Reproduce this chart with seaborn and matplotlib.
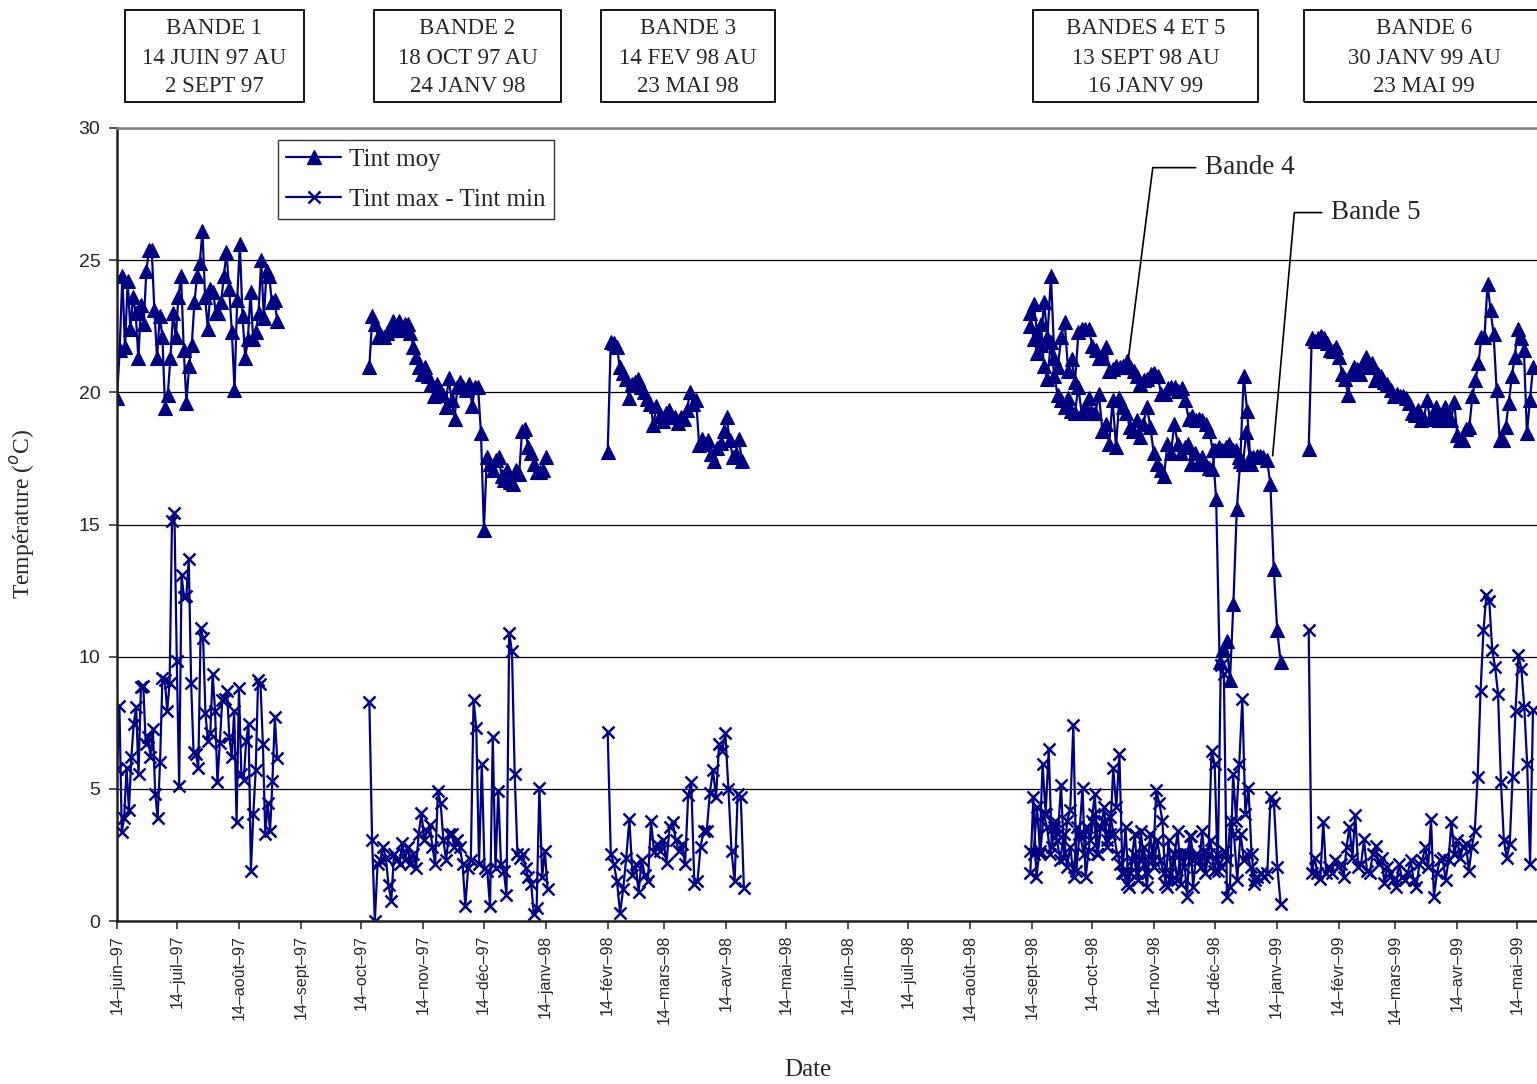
import numpy as np
import pandas as pd
import matplotlib.pyplot as plt
import matplotlib.dates as mdates
from matplotlib.lines import Line2D
from matplotlib.patches import Rectangle
from matplotlib.ticker import FuncFormatter
import seaborn as sns

sns.set_style("white")
plt.rcParams['font.family'] = ['Liberation Sans', 'DejaVu Sans']
SERIF = ['Liberation Serif', 'DejaVu Serif']
NAVY = '#000080'

# French month abbreviations for the date ticks
mois = ['janv', 'févr', 'mars', 'avr', 'mai', 'juin',
        'juil', 'août', 'sept', 'oct', 'nov', 'déc']

# ---- data: first / last day of each series and the daily readings ----
bandes = ['B1', 'B2', 'B3', 'B4', 'B5', 'B6']

moy_debut = ['1997-06-14', '1997-10-18', '1998-02-14', '1998-09-13', '1998-09-13', '1999-01-30']
moy_fin = ['1997-09-02', '1998-01-14', '1998-04-22', '1999-01-01', '1999-01-16', '1999-05-22']
ecart_debut = ['1997-06-14', '1997-10-18', '1998-02-14', '1998-09-13', '1998-09-13', '1999-01-30']
ecart_fin = ['1997-09-02', '1998-01-15', '1998-04-23', '1999-01-03', '1999-01-16', '1999-05-22']

# Tint moy
moy_b1 = [19.8, 21.6, 24.4, 21.7, 24.2, 22.4, 23.6, 23.0, 21.3, 23.3,
          22.6, 24.6, 25.4, 25.4, 23.1, 21.3, 22.9, 22.1, 19.4, 19.9,
          21.3, 23.0, 22.1, 23.6, 24.4, 21.6, 19.6, 21.0, 21.8, 23.4,
          24.4, 24.9, 26.1, 23.6, 22.4, 23.9, 23.8, 23.0, 23.0, 23.4,
          24.4, 25.3, 23.9, 22.3, 20.1, 23.5, 25.6, 22.9, 21.3, 22.0,
          23.8, 22.0, 22.3, 23.0, 25.0, 22.8, 24.6, 24.4, 23.4, 23.5, 22.7]
moy_b2 = [20.97, 22.9, 22.6, 22.1, 22.15, 22.1, 22.25, 22.35, 22.7, 22.35,
          22.7, 22.35, 22.6, 22.6, 22.25, 21.7, 21.35, 20.97, 20.7, 20.97,
          20.6, 20.3, 19.85, 20.3, 20.1, 19.9, 19.45, 20.55, 19.7, 19.0,
          20.2, 20.4, 20.2, 20.1, 20.3, 19.5, 20.2, 20.2, 18.45, 14.8,
          17.55, 17.3, 17.05, 17.45, 17.55, 16.85, 16.7, 17.05, 16.6, 16.55,
          17.05, 16.9, 18.55, 18.6, 17.95, 17.7, 17.3, 17.0, 17.0, 17.05, 17.55]
moy_b3 = [17.75, 21.9, 21.85, 21.7, 20.95, 20.75, 20.5, 19.8, 20.3, 20.4,
          20.5, 20.2, 20.0, 19.75, 19.55, 18.75, 19.5, 19.1, 18.9, 19.2,
          19.35, 19.05, 19.05, 18.85, 19.05, 19.0, 19.35, 20.0, 19.55, 19.7,
          18.0, 18.25, 18.05, 18.2, 17.65, 17.4, 17.9, 18.1, 18.55, 19.05,
          18.2, 17.55, 17.65, 18.25, 17.4]
moy_b4 = [22.5, 23.35, 22.2, 21.8, 23.4, 22.1, 24.4, 21.3, 20.95, 22.1,
          22.65, 20.8, 21.25, 20.4, 22.3, 22.4, 22.4, 22.4, 21.75, 21.6,
          21.3, 21.3, 21.7, 20.8, 20.9, 21.0, 20.95, 21.0, 21.2, 20.95,
          20.8, 20.6, 20.3, 20.45, 20.5, 20.7, 20.75, 20.6, 19.95, 19.95,
          20.15, 20.2, 20.2, 20.05, 20.15, 19.7, 19.0, 19.1, 18.95, 19.0,
          18.95, 18.8, 18.55, 17.8, 15.95, 9.8, 10.3, 10.6, 9.1, 12.0,
          15.6, 17.4, 20.6, 19.3, 17.3]
moy_b5 = [23.0, 22.0, 21.5, 22.6, 21.0, 20.5, 21.9, 20.6, 19.9, 19.7,
          19.45, 19.8, 19.3, 19.2, 20.2, 19.2, 19.45, 19.8, 19.2, 19.2,
          19.95, 18.55, 18.8, 18.05, 19.7, 17.95, 19.8, 19.45, 19.2, 18.7,
          18.55, 18.95, 18.3, 18.8, 19.45, 18.7, 17.7, 17.3, 17.05, 16.85,
          18.05, 17.7, 18.8, 18.05, 17.7, 17.95, 18.05, 17.3, 17.7, 17.3,
          17.55, 17.3, 17.15, 17.1, 17.8, 17.95, 17.8, 17.95, 18.05, 17.8,
          17.8, 17.55, 17.3, 18.5, 17.55, 17.55, 17.6, 17.6, 17.55, 17.45,
          16.55, 13.3, 11.0, 9.8]
moy_b6 = [17.85, 22.05, 21.95, 22.05, 22.15, 22.05, 21.85, 21.6, 21.55, 21.7,
          21.35, 20.7, 20.5, 19.9, 20.7, 20.95, 20.9, 20.7, 21.1, 21.35,
          20.95, 21.1, 20.45, 20.7, 20.6, 20.4, 20.3, 20.1, 19.85, 19.95,
          19.85, 19.85, 19.8, 19.6, 19.2, 19.15, 19.35, 18.95, 19.0, 19.7,
          19.0, 19.1, 19.45, 18.95, 19.1, 19.45, 19.1, 18.95, 19.65, 18.4,
          18.2, 18.2, 18.6, 18.7, 19.85, 20.45, 21.1, 22.1, 22.1, 24.1,
          23.1, 22.2, 20.1, 18.2, 18.2, 18.7, 19.6, 20.6, 21.35, 22.4,
          22.05, 21.6, 18.45, 19.7, 20.95]

# Tint max - Tint min
ecart_b1 = [5.75, 8.15, 3.35, 3.9, 5.8, 4.2, 6.2, 7.45, 8.1, 5.55,
            8.85, 8.9, 6.7, 6.95, 6.2, 7.25, 4.8, 3.9, 6.0, 9.2,
            9.1, 7.95, 9.0, 15.15, 15.45, 9.85, 5.1, 13.1, 12.25, 12.3,
            13.7, 9.0, 6.4, 6.3, 5.8, 11.1, 10.7, 7.85, 6.8, 7.1,
            9.35, 7.95, 5.25, 6.75, 8.35, 8.4, 8.7, 6.95, 6.2, 7.95,
            3.75, 8.8, 5.55, 5.35, 6.8, 7.45, 1.9, 4.05, 5.7, 9.1,
            8.95, 6.7, 3.3, 4.45, 3.4, 5.3, 7.7, 6.15]
ecart_b2 = [8.3, 3.05, 0.0, 2.15, 2.3, 2.8, 2.4, 1.35, 0.75, 2.55,
            2.3, 2.15, 2.95, 2.3, 2.8, 2.15, 2.55, 2.0, 3.3, 4.1,
            3.05, 3.4, 3.65, 2.8, 2.15, 4.9, 4.45, 3.05, 2.3, 3.3,
            3.3, 2.8, 3.05, 2.8, 2.15, 0.55, 2.0, 2.3, 8.35, 7.3,
            2.15, 5.95, 2.0, 1.9, 0.55, 6.95, 2.0, 4.9, 2.15, 1.9,
            1.0, 10.9, 10.2, 5.55, 2.55, 2.4, 2.55, 2.0, 1.65, 1.4,
            0.25, 0.5, 5.05, 1.65, 2.65, 1.2]
ecart_b3 = [7.15, 2.55, 2.15, 1.5, 0.3, 1.2, 2.4, 3.85, 1.75, 2.15,
            1.1, 2.3, 1.75, 1.5, 3.8, 2.6, 2.9, 2.65, 3.05, 2.2,
            3.55, 3.75, 3.05, 2.65, 2.9, 2.15, 4.75, 5.25, 1.4, 1.5,
            2.8, 3.4, 3.4, 4.85, 5.7, 4.7, 6.7, 6.45, 7.1, 5.0,
            2.65, 1.5, 4.8, 4.7, 1.25]
ecart_b4 = [1.8, 4.7, 1.65, 2.65, 5.95, 4.05, 6.5, 2.8, 3.8, 3.3,
            5.15, 2.4, 3.8, 4.2, 7.4, 1.9, 3.3, 5.05, 1.65, 2.65,
            3.8, 4.8, 2.55, 3.55, 4.3, 3.05, 3.3, 5.8, 4.3, 6.3,
            1.8, 3.55, 1.3, 2.3, 3.3, 1.55, 3.4, 2.15, 1.3, 3.3,
            2.3, 4.95, 4.45, 3.8, 1.4, 3.05, 1.55, 2.55, 3.4, 1.4,
            2.55, 0.9, 3.2, 1.3, 2.55, 2.3, 3.4, 1.8, 2.55, 6.45,
            5.95, 1.9, 9.7, 9.35, 0.9, 1.3, 5.55, 3.8, 5.95, 8.4,
            4.05, 5.05, 2.55, 1.55]
ecart_b5 = [2.65, 2.55, 4.3, 2.55, 4.05, 3.55, 2.55, 3.55, 3.05, 2.3,
            3.3, 2.05, 2.8, 1.65, 3.55, 3.2, 2.55, 3.55, 3.05, 4.05,
            2.55, 3.55, 3.8, 2.8, 3.95, 3.3, 2.55, 2.15, 1.8, 1.4,
            1.8, 2.55, 1.8, 2.3, 2.8, 1.8, 2.55, 2.05, 3.05, 2.3,
            1.8, 1.3, 1.8, 2.55, 1.55, 2.55, 2.05, 2.55, 3.2, 2.3,
            2.55, 2.05, 2.65, 2.3, 3.05, 1.9, 2.55, 2.05, 2.65, 2.3,
            3.8, 3.3, 1.55, 3.3, 2.3, 2.55, 2.05, 1.4, 1.65, 1.8,
            1.65, 1.8, 4.7, 4.45, 2.05, 0.65]
ecart_b6 = [11.0, 1.8, 2.4, 1.8, 1.6, 3.75, 1.8, 2.05, 1.8, 2.3,
            2.05, 2.15, 1.65, 2.8, 3.55, 2.4, 4.0, 2.05, 2.15, 3.1,
            1.9, 1.8, 2.55, 2.85, 2.15, 2.4, 1.45, 2.05, 1.8, 1.55,
            1.3, 2.15, 1.65, 1.55, 1.8, 2.3, 1.55, 1.3, 2.15, 2.3,
            2.8, 2.05, 3.85, 0.9, 1.8, 2.3, 2.4, 1.55, 2.3, 3.75,
            2.55, 3.05, 2.4, 2.8, 2.9, 1.9, 2.8, 3.4, 5.45, 8.7,
            11.0, 12.35, 12.1, 10.25, 9.6, 8.6, 5.25, 3.05, 2.4, 2.9,
            5.45, 7.95, 10.05, 9.55, 8.1, 5.95, 2.15, 8.0]

moy_series = [moy_b1, moy_b2, moy_b3, moy_b4, moy_b5, moy_b6]
ecart_series = [ecart_b1, ecart_b2, ecart_b3, ecart_b4, ecart_b5, ecart_b6]

# header boxes
cadres = [['BANDE 1', '14 JUIN 97 AU', '2 SEPT 97'],
          ['BANDE 2', '18 OCT 97 AU', '24 JANV 98'],
          ['BANDE 3', '14 FEV 98 AU', '23 MAI 98'],
          ['BANDES 4 ET 5', '13 SEPT 98 AU', '16 JANV 99'],
          ['BANDE 6', '30 JANV 99 AU', '23 MAI 99']]


def to_long(series, starts, ends):
    frames = []
    for name, vals, d0, d1 in zip(bandes, series, starts, ends):
        frames.append(pd.DataFrame({
            'date': pd.date_range(d0, d1, periods=len(vals)),
            'temp': vals,
            'bande': name}))
    return pd.concat(frames, ignore_index=True)


df_moy = to_long(moy_series, moy_debut, moy_fin)
df_ecart = to_long(ecart_series, ecart_debut, ecart_fin)

W, H = 1537, 1084
fig = plt.figure(figsize=(W / 100, H / 100), dpi=100)
ax = fig.add_axes([117 / W, 1 - 921 / H, 1420 / W, 793 / H])

sns.lineplot(data=df_moy, x='date', y='temp', units='bande', estimator=None,
             sort=False, color=NAVY, lw=1.6, marker='^', markersize=10,
             markeredgecolor=NAVY, markeredgewidth=0.8, legend=False, ax=ax)
sns.lineplot(data=df_ecart, x='date', y='temp', units='bande', estimator=None,
             sort=False, color=NAVY, lw=1.6, marker='x', markersize=9,
             markeredgecolor=NAVY, markeredgewidth=1.8, legend=False, ax=ax)

ax.set_xlim(pd.Timestamp('1997-06-14'), pd.Timestamp('1999-05-24'))
ax.set_ylim(0, 30)
ax.set_yticks(np.arange(0, 31, 5))
ax.yaxis.grid(True, color='black', linewidth=0.9)
ax.set_axisbelow(True)

ax.xaxis.set_major_locator(mdates.MonthLocator(bymonthday=14))
ax.xaxis.set_major_formatter(FuncFormatter(
    lambda v, pos: "14–{}–{:%y}".format(mois[mdates.num2date(v).month - 1],
                                         mdates.num2date(v))))
ax.tick_params(axis='both', direction='out', length=6, width=1.2,
               color='#333333', bottom=True, left=True)
ax.tick_params(axis='y', labelsize=14, pad=6)
ax.tick_params(axis='x', labelsize=11.5, rotation=90, pad=4)

for s in ['left', 'bottom']:
    ax.spines[s].set_color('#222222')
    ax.spines[s].set_linewidth(1.8)
ax.spines['top'].set_color('#808080')
ax.spines['top'].set_linewidth(1.8)
ax.spines['right'].set_visible(False)

ax.set_ylabel('Température ($^{o}$C)', family=SERIF, fontsize=17)
ax.yaxis.set_label_coords(-0.0563, 0.513)
ax.set_xlabel('Date', family=SERIF, fontsize=18)
ax.xaxis.set_label_coords(0.4866, -0.174)

handles = [Line2D([], [], color=NAVY, lw=1.6, marker='^', markersize=10,
                  markeredgecolor=NAVY),
           Line2D([], [], color=NAVY, lw=1.6, marker='x', markersize=9,
                  markeredgewidth=1.8)]
leg = ax.legend(handles, ['Tint moy', 'Tint max - Tint min'],
                loc='upper left', bbox_to_anchor=(0.1134, 0.985),
                borderaxespad=0, fancybox=False, edgecolor='black',
                prop={'family': SERIF, 'size': 18}, handlelength=2.2,
                handletextpad=0.3, labelspacing=0.7, borderpad=0.33)
leg.get_frame().set_linewidth(1.0)

# leader lines to the band 4 / band 5 labels
ax.annotate('Bande 4', xy=(pd.Timestamp('1998-11-01'), 21.3),
            xytext=(pd.Timestamp('1998-12-09'), 28.5),
            family=SERIF, fontsize=19.5, ha='left', va='center',
            arrowprops=dict(arrowstyle='-', color='black', lw=1.2,
                            shrinkA=4, shrinkB=0, relpos=(0, 0.5),
                            connectionstyle='angle,angleA=0,angleB=82.7,rad=0'))
ax.annotate('Bande 5', xy=(pd.Timestamp('1999-01-12'), 17.6),
            xytext=(pd.Timestamp('1999-02-10'), 26.8),
            family=SERIF, fontsize=19.5, ha='left', va='center',
            arrowprops=dict(arrowstyle='-', color='black', lw=1.2,
                            shrinkA=4, shrinkB=0, relpos=(0, 0.5),
                            connectionstyle='angle,angleA=0,angleB=84.9,rad=0'))

# header boxes above the plot (pixel layout)
box_x = [(125, 304), (374, 561), (601, 775), (1033, 1258), (1304, 1545)]
for (x0, x1), lignes in zip(box_x, cadres):
    fig.add_artist(Rectangle((x0 / W, 1 - 102 / H), (x1 - x0) / W, 92 / H,
                             transform=fig.transFigure, fill=False,
                             edgecolor='black', lw=1.3))
    cx = (x0 + x1) / 2 if x1 < W else 1424
    for py, txt in zip([29, 58, 86], lignes):
        fig.text(cx / W, 1 - py / H, txt, ha='center', va='center',
                 family=SERIF, fontsize=16.5)

fig.savefig('out.png', dpi=100)
